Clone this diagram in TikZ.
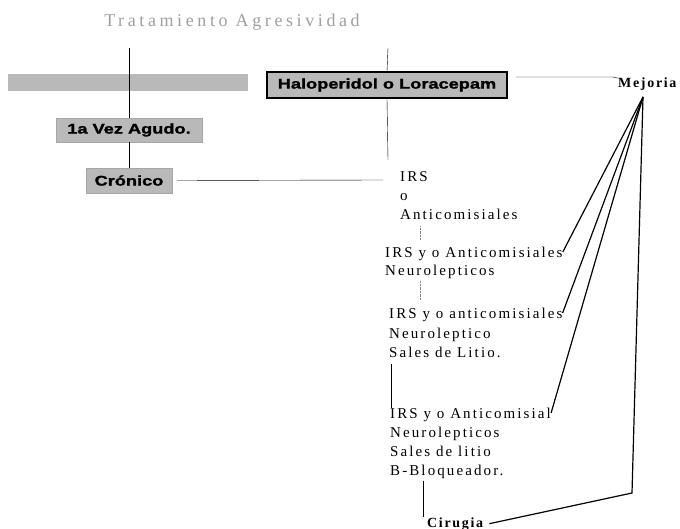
\documentclass[tikz,border=0pt]{standalone}
\usepackage{fontspec}
\setmainfont{Liberation Serif}
\newfontfamily\boxfont{Liberation Sans}[FakeStretch=1.3,FakeBold=1.5]
\newfontfamily\wideserif{Liberation Serif}[LetterSpace=14]
\newfontfamily\endserif{Liberation Serif}[LetterSpace=12]
\newfontfamily\titleserif{Liberation Serif}[LetterSpace=20]
\usepackage{tikz}

\begin{document}
\begin{tikzpicture}[x=1pt,y=-1pt,
    gbox/.style={fill=gray!55,draw=gray!70,inner sep=0pt,font=\boxfont\bfseries\fontsize{14}{16}\selectfont},
    step text/.style={inner sep=0pt,align=left,anchor=north west,font=\wideserif\fontsize{15}{19}\selectfont},
    end text/.style={inner sep=0pt,anchor=base west,font=\endserif\bfseries\fontsize{14}{16}\selectfont},
    dotline/.style={gray,densely dotted},
    fan/.style={line width=1.2pt}]
      \useasboundingbox (0,0) rectangle (680,529);
      \node[font=\titleserif\fontsize{18}{20}\selectfont,text=gray!75] (title) at (232,22) {Tratamiento Agresividad};
      % left branch
      \node[gbox,draw=none,minimum width=240pt,minimum height=17pt] (blank) at (128,82.5) {};
      \node[gbox,minimum width=146pt,minimum height=24pt] (agudo) at (129,130) {1a Vez Agudo.};
      \node[gbox,minimum width=86pt,minimum height=25pt] (cronico) at (129,180.5) {Crónico};
      \coordinate (top1) at (129,48);
      \draw (top1) -- (agudo.north);
      \draw (agudo.south) -- (cronico.north);
      % right branch
      \node[gbox,draw=black,line width=1.5pt,minimum width=240pt,minimum height=26pt] (halo) at (387,85) {Haloperidol o Loracepam};
      \coordinate (top2) at (388,48);
      \coordinate (end2) at (388,160);
      \draw (top2) -- (halo.north);
      \draw (halo.south) -- (end2);
      \coordinate (end1) at (383,180);
      \draw ([xshift=5pt]cronico.east) -- (end1);
      \node[step text] (irs1) at (400,171) {IRS\\o\\Anticomisiales};
      \node[step text,font=\wideserif\fontsize{15}{18}\selectfont] (irs2) at (385,247) {IRS y o Anticomisiales\\Neurolepticos};
      \node[step text,font=\wideserif\fontsize{15}{19.5}\selectfont] (irs3) at (389,308) {IRS y o anticomisiales\\Neuroleptico\\Sales de Litio.};
      \node[step text] (irs4) at (390,408) {IRS y o Anticomisial\\Neurolepticos\\Sales de litio\\B-Bloqueador.};
      \node[end text] (cirugia) at (427,527) {Cirugia};
      \node[end text] (mejoria) at (618,88) {Mejoria};
      \draw[dotline] ([shift={(20,7)}]irs1.south west) -- ([shift={(35,-7)}]irs2.north west);
      \draw[dotline] ([shift={(35,2)}]irs2.south west) -- ([shift={(31,-8)}]irs3.north west);
      \draw ([shift={(2,6)}]irs3.south west) -- ([shift={(1,0)}]irs4.north west);
      \draw ([shift={(33,2)}]irs4.south west) -- ([xshift=-4pt]cirugia.north west);
      % improvement
      \coordinate (mj) at (643,97);
      \coordinate (bend) at (632,493);
      \draw ([shift={(8,-8)}]halo.east) -- ++(97,0) -- (mejoria.north west);
      \draw[fan] (mj) -- ([yshift=-5pt]irs2.north east);
      \draw[fan] (mj) -- ([yshift=-5pt]irs3.north east);
      \draw[fan] (mj) -- ([yshift=-5pt]irs4.north east);
      \draw[fan] (mj) -- (bend) -- ([xshift=6pt]cirugia.east);
\end{tikzpicture}
\end{document}
